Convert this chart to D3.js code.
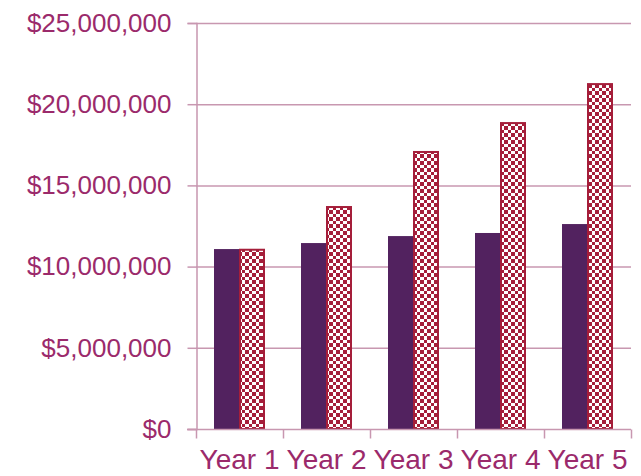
<!DOCTYPE html>
<html>
<head>
<meta charset="utf-8">
<script src="https://cdn.jsdelivr.net/npm/d3@7"></script>
<style>
  html, body { margin: 0; padding: 0; background: #fff; }
  svg { display: block; }
</style>
</head>
<body>
<svg id="chart" width="641" height="476"></svg>
<script>
// Annual totals for the two scenarios
const categories = ["Year 1", "Year 2", "Year 3", "Year 4", "Year 5"];
const baseline = [11080000, 11450000, 11880000, 12070000, 12620000];
const projected = [11100000, 13730000, 17120000, 18900000, 21300000];
const yTicks = [0, 5000000, 10000000, 15000000, 20000000, 25000000];

const textColor = "#9B2A6B";
const gridColor = "#C897B0";
const solidColor = "#52225F";
const checkColor = "#A51E3A";
const fontFamily = "'Liberation Sans', Arial, sans-serif";

const svg = d3.select("#chart");
const plotLeft = 196, plotRight = 631, plotTop = 23, plotBottom = 429;

const x = d3.scaleBand().domain(categories).range([plotLeft, plotRight]).paddingInner(0).paddingOuter(0);
const y = d3.scaleLinear().domain([0, 25000000]).range([plotBottom, plotTop]);

// Checkerboard fill
const cell = 3.5;
const defs = svg.append("defs");
const pat = defs.append("pattern").attr("id", "checker")
  .attr("patternUnits", "userSpaceOnUse").attr("width", cell * 2).attr("height", cell * 2);
pat.append("rect").attr("width", cell * 2).attr("height", cell * 2).attr("fill", "#fff");
pat.append("rect").attr("width", cell).attr("height", cell).attr("fill", checkColor)
  .attr("shape-rendering", "crispEdges");
pat.append("rect").attr("x", cell).attr("y", cell).attr("width", cell).attr("height", cell)
  .attr("fill", checkColor).attr("shape-rendering", "crispEdges");

// Horizontal gridlines
svg.append("g").selectAll("line").data(yTicks.filter(d => d > 0)).join("line")
  .attr("x1", plotLeft).attr("x2", plotRight)
  .attr("y1", d => y(d) + 0.5).attr("y2", d => y(d) + 0.5)
  .attr("stroke", gridColor).attr("stroke-width", 1.5);

// Y axis
const yAxis = d3.axisLeft(y).tickValues(yTicks).tickSize(9).tickPadding(16)
  .tickFormat(d => "$" + d3.format(",")(d));
const gy = svg.append("g").attr("transform", `translate(${plotLeft + 0.5},0)`).call(yAxis);
gy.select(".domain").attr("stroke", gridColor).attr("stroke-width", 1.5);
gy.selectAll(".tick line").attr("stroke", gridColor).attr("stroke-width", 1.5);
gy.selectAll(".tick text").attr("fill", textColor)
  .style("font-family", fontFamily).style("font-size", "26px");

// Bars
const bw = 25;
const groups = svg.append("g").selectAll("g").data(categories).join("g");
groups.append("rect")
  .attr("x", (d) => x(d) + x.bandwidth() / 2 - bw - 0.5)
  .attr("y", (d, i) => y(baseline[i]))
  .attr("width", bw)
  .attr("height", (d, i) => y(0) - y(baseline[i]))
  .attr("fill", solidColor);
groups.append("rect")
  .attr("x", (d) => x(d) + x.bandwidth() / 2 - 0.5 + 1)
  .attr("y", (d, i) => y(projected[i]) + 1)
  .attr("width", bw - 1)
  .attr("height", (d, i) => y(0) - y(projected[i]) - 1)
  .attr("fill", "url(#checker)")
  .attr("stroke", checkColor).attr("stroke-width", 2);

// X axis
const xAxis = d3.axisBottom(x).tickSize(0).tickPadding(20);
const gx = svg.append("g").attr("transform", `translate(0,${y(0) + 0.5})`).call(xAxis);
gx.select(".domain").remove();
gx.selectAll(".tick text").attr("fill", textColor)
  .style("font-family", fontFamily).style("font-size", "28px");
gx.append("line").attr("x1", 187).attr("x2", plotRight).attr("y1", 0).attr("y2", 0)
  .attr("stroke", gridColor).attr("stroke-width", 1.5);
const bounds = [x(categories[0])].concat(categories.map(c => x(c) + x.bandwidth()));
gx.selectAll(".bound").data(bounds).join("line").attr("class", "bound")
  .attr("x1", d => d + 0.5).attr("x2", d => d + 0.5).attr("y1", 0).attr("y2", 9)
  .attr("stroke", gridColor).attr("stroke-width", 1.5);
</script>
</body>
</html>
